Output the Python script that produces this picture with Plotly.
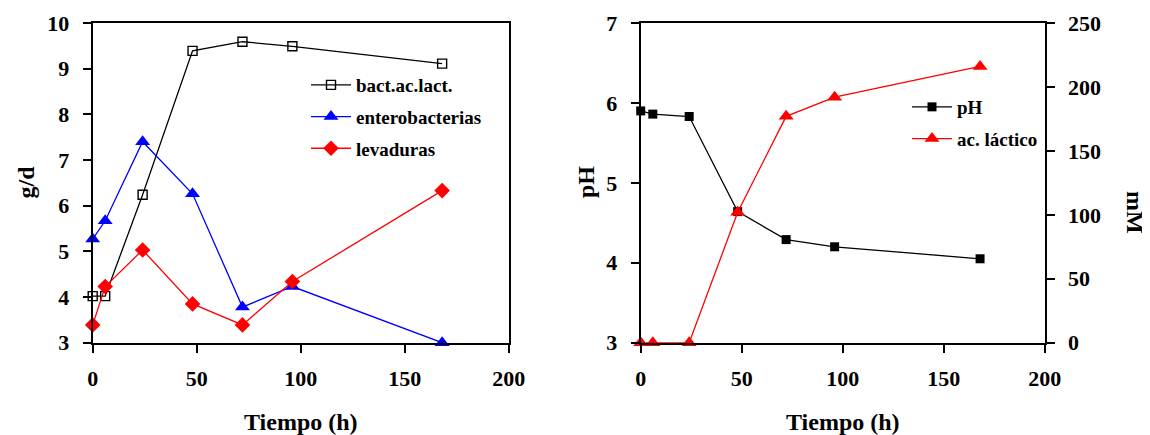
import plotly.graph_objects as go

# ---- data ----
tiempo = [0, 6, 24, 48, 72, 96, 168]
bact = [4.02, 4.02, 6.24, 9.39, 9.59, 9.49, 9.11]
entero = [5.27, 5.67, 7.40, 6.26, 3.78, 4.23, 3.00]
levad = [3.39, 4.23, 5.03, 3.85, 3.39, 4.34, 6.33]
ph = [5.90, 5.86, 5.83, 4.64, 4.29, 4.20, 4.05]
lactico = [0, 0, 0, 102, 177, 192, 216]

x_ticks = [0, 50, 100, 150, 200]
left_ticks = [3, 4, 5, 6, 7, 8, 9, 10]
ph_ticks = [3, 4, 5, 6, 7]
mm_ticks = [0, 50, 100, 150, 200, 250]

W, H = 1150, 435
OFF = 8  # page body margin
FAM = "Liberation Serif"


def px(x):
    return (x - OFF) / W


def py(y):
    return 1 - (y - OFF) / H


def f(size, color="black"):
    return dict(family=FAM, size=size, color=color, weight="bold")


fig = go.Figure()

fig.add_trace(go.Scatter(x=tiempo, y=bact, name="bact.ac.lact.", mode="lines+markers",
                         line=dict(color="black", width=1.3),
                         marker=dict(symbol="square-open", size=9, color="black", line=dict(width=1.4)),
                         xaxis="x", yaxis="y", legend="legend", legendgroup="a", cliponaxis=False))
fig.add_trace(go.Scatter(x=tiempo, y=entero, name="enterobacterias", mode="lines+markers",
                         line=dict(color="#0000FF", width=1.3),
                         marker=dict(symbol="triangle-up", size=13, color="#0000FF"),
                         xaxis="x", yaxis="y", legend="legend", legendgroup="b", cliponaxis=False))
fig.add_trace(go.Scatter(x=tiempo, y=levad, name="levaduras", mode="lines+markers",
                         line=dict(color="#FF0000", width=1.3),
                         marker=dict(symbol="diamond", size=12, color="#FF0000"),
                         xaxis="x", yaxis="y", legend="legend", legendgroup="c", cliponaxis=False))

fig.add_trace(go.Scatter(x=tiempo, y=ph, name="pH", mode="lines+markers",
                         line=dict(color="black", width=1.3),
                         marker=dict(symbol="square", size=9, color="black"),
                         xaxis="x2", yaxis="y2", legend="legend2", legendgroup="d", cliponaxis=False))
fig.add_trace(go.Scatter(x=tiempo, y=lactico, name="ac. láctico", mode="lines+markers",
                         line=dict(color="#FF0000", width=1.3),
                         marker=dict(symbol="triangle-up", size=13, color="#FF0000"),
                         xaxis="x2", yaxis="y3", legend="legend2", legendgroup="e", cliponaxis=False))

ax_common = dict(showgrid=False, zeroline=False, showline=True, linecolor="black", linewidth=2,
                 ticks="outside", ticklen=8, tickwidth=2, tickcolor="black", tickfont=f(22),
                 automargin=False)

x0, x1 = 92.7, 508.7
x2a, x2b = 640.7, 1044.7
ytop, ybot = 23.0, 342.7

fig.update_layout(
    width=W, height=H, margin=dict(l=0, r=0, t=0, b=0, autoexpand=False),
    paper_bgcolor="white", plot_bgcolor="white",
    font=f(22),
    xaxis=dict(domain=[px(x0), px(x1)], range=[0, 200], tickvals=x_ticks, anchor="y",
               mirror=True, ticklabelstandoff=7, **ax_common),
    yaxis=dict(domain=[py(ybot), py(ytop)], range=[3, 10], tickvals=left_ticks, anchor="x",
               mirror=True, ticklabelstandoff=9, **ax_common),
    xaxis2=dict(domain=[px(x2a), px(x2b)], range=[0, 200], tickvals=x_ticks, anchor="y2",
                mirror=True, ticklabelstandoff=7, **ax_common),
    yaxis2=dict(domain=[py(ybot), py(ytop)], range=[3, 7], tickvals=ph_ticks, anchor="x2",
                ticklabelstandoff=9, **ax_common),
    yaxis3=dict(range=[0, 250], tickvals=mm_ticks, anchor="x2", overlaying="y2", side="right",
                ticklabelstandoff=9, **ax_common),
    yaxis4=dict(range=[0, 250], tickvals=mm_ticks, anchor="x2", overlaying="y2", side="right",
                showgrid=False, zeroline=False, showline=False, ticks="inside", ticklen=8,
                tickwidth=2, tickcolor="black", showticklabels=False, automargin=False),
    legend=dict(x=px(306), y=py(66), xanchor="left", yanchor="top", font=f(19),
                bgcolor="rgba(0,0,0,0)", tracegroupgap=4, traceorder="grouped", itemwidth=40),
    legend2=dict(x=px(907), y=py(88), xanchor="left", yanchor="top", font=f(19),
                 bgcolor="rgba(0,0,0,0)", tracegroupgap=4, traceorder="grouped", itemwidth=40),
    annotations=[
        dict(text="Tiempo (h)", x=px((x0 + x1) / 2), y=py(421.7), xref="paper", yref="paper",
             showarrow=False, font=f(24), xanchor="center", yanchor="middle"),
        dict(text="Tiempo (h)", x=px((x2a + x2b) / 2), y=py(421.7), xref="paper", yref="paper",
             showarrow=False, font=f(24), xanchor="center", yanchor="middle"),
        dict(text="g/d", x=px(25), y=py(182.5), xref="paper", yref="paper",
             showarrow=False, font=f(24), textangle=-90, xanchor="center", yanchor="middle"),
        dict(text="pH", x=px(585.5), y=py(182.5), xref="paper", yref="paper",
             showarrow=False, font=f(24), textangle=-90, xanchor="center", yanchor="middle"),
        dict(text="mM", x=px(1135), y=py(212), xref="paper", yref="paper",
             showarrow=False, font=f(24), textangle=90, xanchor="center", yanchor="middle"),
    ],
)

fig.write_html("out.html")
